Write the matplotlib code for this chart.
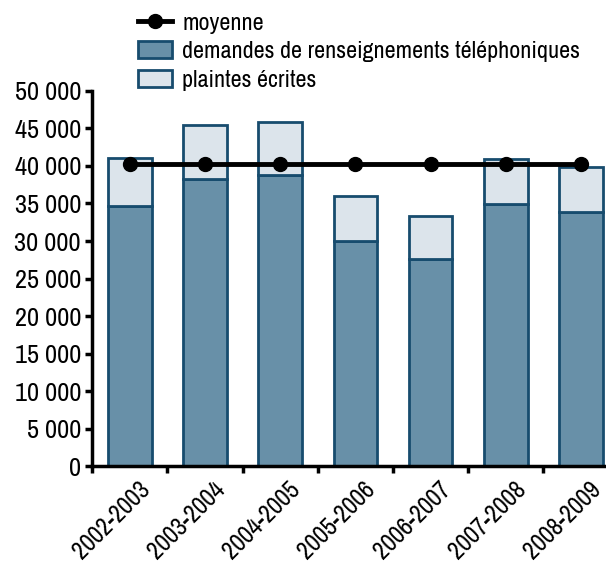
import numpy as np
import matplotlib.pyplot as plt
import matplotlib.transforms as mtransforms

# Data
periodes = ["2002-2003", "2003-2004", "2004-2005", "2005-2006",
            "2006-2007", "2007-2008", "2008-2009"]
demandes_tel = [34600, 38300, 38750, 30000, 27600, 34900, 33800]
plaintes_ecrites = [6500, 7100, 7100, 6000, 5700, 6000, 6000]
moyenne = [40200, 40200, 40200, 40200, 40200, 40200, 40200]
yticks = [0, 5000, 10000, 15000, 20000, 25000, 30000, 35000, 40000, 45000, 50000]

plt.rcParams['font.family'] = ['Archivo Narrow', 'DejaVu Sans']

fill_dark = '#6890A8'
fill_light = '#DCE4EB'
edge = '#174C6E'

fig = plt.figure(figsize=(6.06, 5.61), dpi=100)
ax = fig.add_axes([0.152, 0.169, 0.869, 0.669])

x = np.arange(len(periodes))
b1 = ax.bar(x, demandes_tel, width=0.58, color=fill_dark, edgecolor=edge,
            linewidth=2, label="demandes de renseignements téléphoniques", zorder=2)
b2 = ax.bar(x, plaintes_ecrites, width=0.58, bottom=demandes_tel, color=fill_light,
            edgecolor=edge, linewidth=2, label="plaintes écrites", zorder=2)
l1, = ax.plot(x, moyenne, color='black', linewidth=3.5, marker='o', markersize=10,
              label="moyenne", zorder=3)

ax.set_xlim(-0.5, 6.5)
ax.set_ylim(0, 50000)
ax.set_yticks(yticks)
ax.set_yticklabels([f"{v:,}".replace(",", " ") for v in yticks], fontsize=19)

# ticks between categories, labels centred under bars
ax.set_xticks(np.arange(-0.5, 7.0, 1.0))
ax.set_xticklabels([])
ax.set_xticks(x, minor=True)
ax.set_xticklabels(periodes, minor=True, rotation=45, ha='right',
                   rotation_mode='anchor', fontsize=18)
ax.tick_params(axis='x', which='minor', length=0, pad=7)
ax.tick_params(axis='x', which='major', length=5, width=2.5, direction='out')
ax.tick_params(axis='y', length=5, width=2.5, direction='out', pad=3)

# nudge the rotated labels to the right like the original
shift = mtransforms.ScaledTranslation(0.08, -0.01, fig.dpi_scale_trans)
for lab in ax.get_xticklabels(minor=True):
    lab.set_transform(lab.get_transform() + shift)

for s in ['top', 'right']:
    ax.spines[s].set_visible(False)
for s in ['left', 'bottom']:
    ax.spines[s].set_linewidth(2.5)

fig.legend(handles=[l1, b1, b2], loc='upper left',
           bbox_to_anchor=(128 / 606, 1 - 3 / 561), frameon=False,
           fontsize=17.3, handlelength=1.45, handletextpad=0.4, labelspacing=0.32,
           borderaxespad=0)

fig.savefig("out.png", dpi=100)
